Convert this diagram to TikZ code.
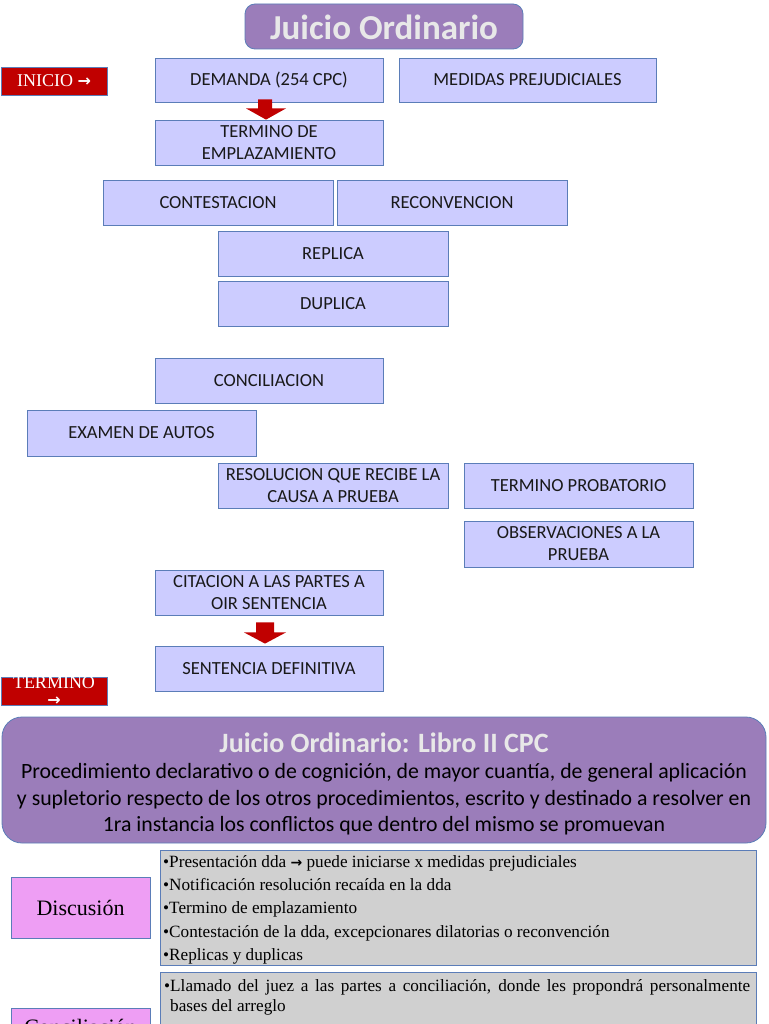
\documentclass[tikz,border=0pt]{standalone}
\usepackage{fontspec}
\setmainfont{Liberation Serif}
\newfontfamily\carfont{Carlito}
\newfontfamily\arrfont{DejaVu Sans}
\usetikzlibrary{calc}
\definecolor{lav}{HTML}{CCCCFF}
\definecolor{bblue}{HTML}{5B7DB8}
\definecolor{dred}{HTML}{C00000}
\definecolor{purp}{HTML}{9B7DBA}
\definecolor{pinkv}{HTML}{EE9EF4}
\definecolor{gbox}{HTML}{D0D0D0}
\definecolor{ltxt}{HTML}{E8E8E8}
\tikzset{
  flowbox/.style={draw=bblue, line width=0.8pt, fill=lav, inner sep=0pt, align=center, font=\carfont\fontsize{18.5}{22}\selectfont, text=black!90},
  redlabel/.style={draw=bblue, line width=0.8pt, fill=dred, inner sep=0pt, text=white, font=\fontsize{18}{20}\selectfont},
  purpbox/.style={draw=bblue, line width=0.8pt, fill=purp, rounded corners=10pt, inner sep=0pt},
  phasebox/.style={draw=bblue, line width=0.8pt, fill=pinkv, inner sep=0pt, font=\fontsize{22}{26}\selectfont},
  listbox/.style={draw=bblue, line width=0.8pt, fill=gbox, inner sep=0pt},
  blockarrow/.style={fill=dred, draw=none}
}
\newcommand{\bx}[7][flowbox]{%
  \node[#1, minimum width={(#5)-(#3)}, minimum height={(#6)-(#4)}] (#2) at ({((#3)+(#5))/2},{((#4)+(#6))/2}) {#7};}
\begin{document}
\begin{tikzpicture}[x=1pt,y=-1pt]
\useasboundingbox (0,0) rectangle (768,1024);
\clip (0,0) rectangle (768,1024);
\fill[white] (0,0) rectangle (768,1024);

% title
\bx[purpbox]{title}{245}{4}{523}{49}{}
\node[font=\carfont\bfseries\fontsize{35}{40}\selectfont, text=ltxt] (titletxt) at ($(title.center)+(0,1)$) {Juicio Ordinario};

% start / end labels
\bx[redlabel]{inicio}{1}{67}{107}{95}{INICIO \raisebox{0pt}{\arrfont\bfseries\fontsize{16}{18}\selectfont →}}
\bx[redlabel]{termino}{1}{677}{107}{705}{}
\node[text=white, font=\fontsize{18}{18}\selectfont, anchor=base, inner sep=0pt] (termtxt) at (54,688) {TERMINO};
\node[text=white, font=\arrfont\bfseries\fontsize{16}{16}\selectfont, anchor=base, inner sep=0pt] (termarr) at (54,705) {→};

% flow boxes
\bx{dem}{155}{58}{383}{102}{DEMANDA (254 CPC)}
\bx{med}{399}{58}{656}{102}{MEDIDAS PREJUDICIALES}
\bx{emp}{155}{120}{383}{165}{TERMINO DE\\EMPLAZAMIENTO}
\bx{cont}{103}{180}{333}{225}{CONTESTACION}
\bx{recon}{337}{180}{567}{225}{RECONVENCION}
\bx{rep}{218}{231}{448}{276}{REPLICA}
\bx{dup}{218}{281}{448}{326}{DUPLICA}
\bx{conc}{155}{358}{383}{403}{CONCILIACION}
\bx{exam}{27}{410}{256}{456}{EXAMEN DE AUTOS}
\bx{reso}{218}{463}{448}{508}{RESOLUCION QUE RECIBE LA\\CAUSA A PRUEBA}
\bx{prob}{464}{463}{693}{508}{TERMINO PROBATORIO}
\bx{obs}{464}{521}{693}{567}{OBSERVACIONES A LA\\PRUEBA}
\bx{cit}{155}{570}{383}{615}{CITACION A LAS PARTES A\\OIR SENTENCIA}
\bx{sen}{155}{646}{383}{691}{SENTENCIA DEFINITIVA}

% block arrows
\fill[blockarrow] ($(dem.south)+(-11,-3)$) -- ($(dem.south)+(3,-3)$) -- ($(dem.south)+(3,6)$)
  -- ($(dem.south)+(17,6)$) -- ($(emp.north)+(-3,0)$) -- ($(dem.south)+(-23,6)$)
  -- ($(dem.south)+(-11,6)$) -- cycle;
\fill[blockarrow] ($(cit.south)+(-13,7)$) -- ($(cit.south)+(5,7)$) -- ($(cit.south)+(5,17)$)
  -- ($(cit.south)+(17,17)$) -- ($(sen.north)+(-4,-2)$) -- ($(cit.south)+(-25,17)$)
  -- ($(cit.south)+(-13,17)$) -- cycle;

% summary box
\bx[purpbox, rounded corners=20pt]{summary}{2}{717}{766}{843}{}
\node[align=center, inner sep=0pt, text=black, font=\carfont\fontsize{21.8}{26.5}\selectfont] (sumtxt) at ($(summary.center)+(0,4)$)
 {{\bfseries\color{ltxt}\fontsize{28}{30}\selectfont Juicio Ordinario: Libro II CPC}\\
  Procedimiento declarativo o de cognición, de mayor cuantía, de general aplicación\\
  y supletorio respecto de los otros procedimientos, escrito y destinado a resolver en\\
  1ra instancia los conflictos que dentro del mismo se promuevan};

% phase rows
\bx[phasebox]{disc}{11}{877}{150}{938}{Discusión}
\bx[listbox]{discl}{160}{850}{756}{965}{}
\node[anchor=north west, inner sep=0pt, align=left, font=\fontsize{17.2}{23.3}\selectfont] (discltxt) at (163,855)
 {\textbullet Presentación dda {\arrfont\bfseries\fontsize{14}{14}\selectfont →} puede iniciarse x medidas prejudiciales\\
  \textbullet Notificación resolución recaída en la dda\\
  \textbullet Termino de emplazamiento\\
  \textbullet Contestación de la dda, excepcionares dilatorias o reconvención\\
  \textbullet Replicas y duplicas};

\bx[phasebox]{conci}{11}{1008}{150}{1060}{}
\node[font=\fontsize{22}{26}\selectfont, anchor=base, inner sep=0pt] (concitxt) at (80.5,1034) {Conciliación};
\bx[listbox]{concl}{160}{972}{756}{1060}{}
\node[anchor=north west, inner sep=0pt, text width=586pt, align=justify, font=\fontsize{17.2}{20.5}\selectfont] (concltxt) at (164,979)
 {\textbullet Llamado del juez a las partes a conciliación, donde les propondrá personalmente\linebreak\hspace*{6pt}bases del arreglo};
\end{tikzpicture}
\end{document}
